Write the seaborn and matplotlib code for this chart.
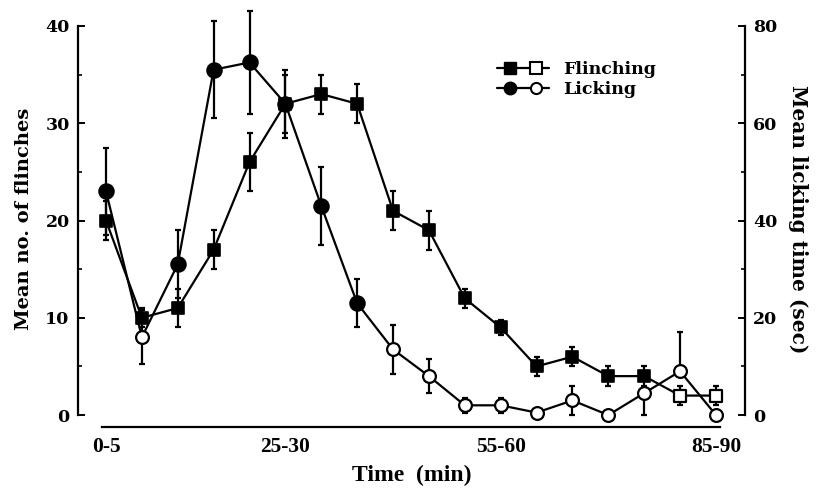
import numpy as np
import pandas as pd
import matplotlib
matplotlib.use('Agg')
import matplotlib.pyplot as plt
import seaborn as sns
from matplotlib.lines import Line2D
from matplotlib.legend_handler import HandlerTuple

''' DATA '''
bins = ['0-5', '5-10', '10-15', '15-20', '20-25', '25-30', '30-35', '35-40', '40-45',
        '45-50', '50-55', '55-60', '60-65', '65-70', '70-75', '75-80', '80-85', '85-90']
shown_labels = ['0-5', '25-30', '55-60', '85-90']

flinch = [20, 10, 11, 17, 26, 32, 33, 32, 21, 19, 12, 9, 5, 6, 4, 4, 2, 2]
flinch_err = [2, 1, 2, 2, 3, 3.5, 2, 2, 2, 2, 1, 0.8, 1, 1, 1, 1, 1, 1]
flinch_filled = [1] * 16 + [0, 0]

lick = [46, 16, 31, 71, 72.5, 64, 43, 23, 13.5, 8, 2, 2, 0.5, 3, 0, 4.5, 9, 0]
lick_err_lo = [9, 5.5, 7, 10, 10.5, 6, 8, 5, 5, 3.5, 1.5, 1.5, 0.5, 3, 0, 4.5, 0, 0]
lick_err_hi = [9, 5.5, 7, 10, 10.5, 6, 8, 5, 5, 3.5, 1.5, 1.5, 0.5, 3, 0, 0, 8, 0]
lick_filled = [1, 0, 1, 1, 1, 1, 1, 1] + [0] * 10

df = pd.DataFrame({'pos': np.arange(len(bins)), 'bin': bins,
                   'flinch': flinch, 'flinch_filled': flinch_filled,
                   'lick': lick, 'lick_filled': lick_filled})

''' PLOT '''
sns.set_style('white')
plt.rcParams['font.family'] = ['DejaVu Serif']
plt.rcParams['text.color'] = 'k'
plt.rcParams['axes.labelcolor'] = 'k'
plt.rcParams['xtick.color'] = 'k'
plt.rcParams['ytick.color'] = 'k'

fig = plt.figure(figsize=(8.17, 4.95), dpi=100)
ax = fig.add_axes([78 / 817, (495 - 427) / 495, (745 - 78) / 817, 416 / 495])
ax2 = ax.twinx()
ax.set_zorder(ax2.get_zorder() + 1)
ax.patch.set_visible(False)

lw = 1.6
# licking (right axis)
ax2.errorbar(df['pos'], df['lick'], yerr=[lick_err_lo, lick_err_hi], fmt='none',
             ecolor='k', elinewidth=lw, capsize=2.5, capthick=lw, clip_on=False)
sns.lineplot(data=df, x='pos', y='lick', ax=ax2, color='k', lw=lw)
sns.scatterplot(data=df[df['lick_filled'] == 1], x='pos', y='lick', ax=ax2, marker='o',
                s=110, color='k', edgecolor='k', linewidth=1.4, zorder=5)
sns.scatterplot(data=df[df['lick_filled'] == 0], x='pos', y='lick', ax=ax2, marker='o',
                s=85, color='white', edgecolor='k', linewidth=1.6, zorder=5, clip_on=False)

# flinching (left axis)
ax.errorbar(df['pos'], df['flinch'], yerr=flinch_err, fmt='none',
            ecolor='k', elinewidth=lw, capsize=2.5, capthick=lw)
sns.lineplot(data=df, x='pos', y='flinch', ax=ax, color='k', lw=lw)
sns.scatterplot(data=df[df['flinch_filled'] == 1], x='pos', y='flinch', ax=ax, marker='s',
                s=85, color='k', edgecolor='k', linewidth=1.2, zorder=5)
sns.scatterplot(data=df[df['flinch_filled'] == 0], x='pos', y='flinch', ax=ax, marker='s',
                s=70, color='white', edgecolor='k', linewidth=1.6, zorder=5)

# axes limits and spines
ax.set_xlim(-0.78, 17.81)
ax.set_ylim(-1.23, 41.54)
ax2.set_ylim(-2.46, 83.08)

for a in (ax, ax2):
    for s in a.spines.values():
        s.set_visible(False)
        s.set_linewidth(1.6)
        s.set_color('k')
ax.spines['left'].set_visible(True)
ax.spines['left'].set_bounds(0, 40)
ax.spines['bottom'].set_visible(True)
ax.spines['bottom'].set_bounds(-0.1, 17.1)
ax2.spines['right'].set_visible(True)
ax2.spines['right'].set_bounds(0, 80)

ax.set_xticks(df['pos'])
ax.set_xticklabels([b if b in shown_labels else '' for b in bins],
                   family='Liberation Serif', fontweight='bold', fontsize=15.5)
ax.set_yticks([0, 10, 20, 30, 40])
ax.set_yticks([5, 15, 25, 35], minor=True)
ax2.set_yticks([0, 20, 40, 60, 80])
ax2.set_yticks([10, 30, 50, 70], minor=True)
ax.tick_params(axis='x', direction='in', length=5, width=1.4, pad=7)
ax.tick_params(axis='y', which='major', direction='in', length=5, width=1.4, pad=6,
               labelsize=12.5)
ax.tick_params(axis='y', which='minor', direction='in', length=3, width=1.2, left=True)
ax2.tick_params(axis='y', which='major', direction='in', length=5, width=1.4, pad=6,
                labelsize=12.5)
ax2.tick_params(axis='y', which='minor', direction='in', length=3, width=1.2, right=True)
for t in ax.get_yticklabels() + ax2.get_yticklabels():
    t.set_fontweight('bold')

ax.set_ylabel('Mean no. of flinches', fontsize=14, fontweight='bold', labelpad=9)
ax2.set_ylabel('Mean licking time (sec)', fontsize=14.5, fontweight='bold',
               rotation=270, labelpad=22)
ax.set_xlabel('Time  (min)', family='Liberation Serif', fontsize=17, fontweight='bold',
              labelpad=6)

# legend
h_f = (Line2D([], [], color='k', lw=lw, marker='s', ms=8, mfc='k', mec='k'),
       Line2D([], [], color='k', lw=lw, marker='s', ms=8, mfc='white', mec='k', mew=1.5))
h_l = (Line2D([], [], color='k', lw=lw, marker='o', ms=9, mfc='k', mec='k'),
       Line2D([], [], color='k', lw=lw, marker='o', ms=8, mfc='white', mec='k', mew=1.5))
ax.legend([h_f, h_l], ['Flinching', 'Licking'],
          handler_map={tuple: HandlerTuple(ndivide=None, pad=0)},
          loc='upper left', bbox_to_anchor=(0.605, 0.918), frameon=False,
          handlelength=3.0, handletextpad=0.8, labelspacing=0.2,
          prop={'size': 12.5, 'weight': 'semibold'})

plt.savefig('out.png', dpi=100)
